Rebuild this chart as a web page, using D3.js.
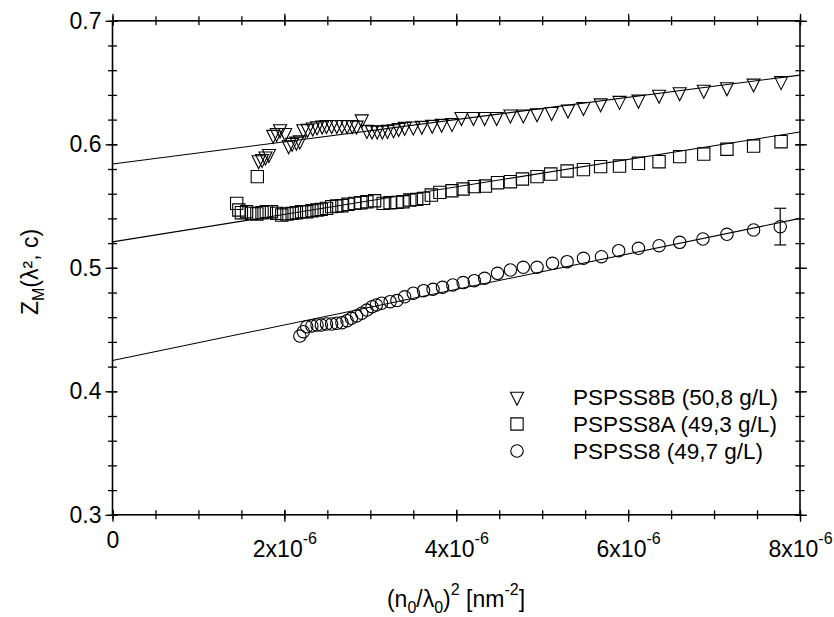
<!DOCTYPE html>
<html>
<head>
<meta charset="utf-8">
<script src="https://cdn.jsdelivr.net/npm/d3@7"></script>
<style>
  body { margin: 0; background: #fff; }
  text { font-family: "Liberation Sans", Arial, sans-serif; fill: #000; }
</style>
</head>
<body>
<svg id="chart" width="834" height="617"></svg>
<script>
// x in units of 10^-6 nm^-2, y = Z_M(lambda^2, c)
const seriesB = [ // PSPSS8B
  [1.70,0.587],[1.74,0.588],[1.78,0.590],[1.82,0.592],[1.87,0.6075],[1.91,0.609],[1.95,0.612],
  [2.01,0.609],[2.05,0.599],[2.09,0.601],[2.14,0.602],[2.18,0.603],[2.22,0.612],[2.27,0.6125],
  [2.33,0.6135],[2.38,0.6145],[2.44,0.615],[2.49,0.6155],[2.55,0.6155],[2.61,0.6155],[2.67,0.6155],
  [2.73,0.6155],[2.79,0.6155],[2.84,0.615],[2.90,0.620],[2.96,0.6115],[3.02,0.611],[3.08,0.611],
  [3.14,0.611],[3.20,0.6115],[3.27,0.612],[3.33,0.613],[3.40,0.614],[3.50,0.6143],[3.60,0.6148],
  [3.72,0.6156],[3.83,0.6164],[3.95,0.617],[4.06,0.622],[4.20,0.622],[4.33,0.622],[4.47,0.622],
  [4.63,0.624],[4.78,0.624],[4.94,0.625],[5.11,0.626],[5.30,0.628],[5.48,0.630],[5.68,0.633],
  [5.90,0.635],[6.12,0.636],[6.36,0.640],[6.60,0.642],[6.88,0.644],[7.15,0.646],[7.46,0.649],[7.78,0.651]
];
const seriesA = [ // PSPSS8A
  [1.445,0.5522],[1.47,0.5468],[1.685,0.5738],[1.50,0.5446],[1.56,0.5454],[1.62,0.5441],[1.68,0.5436],
  [1.74,0.5446],[1.79,0.5454],[1.85,0.5454],[1.91,0.5441],[1.97,0.5427],[2.03,0.5436],[2.09,0.5441],
  [2.14,0.5446],[2.20,0.5454],[2.26,0.5454],[2.32,0.5462],[2.38,0.5468],[2.43,0.5473],[2.49,0.5481],
  [2.55,0.5495],[2.61,0.5500],[2.67,0.5503],[2.74,0.5514],[2.82,0.5522],[2.89,0.5527],[2.96,0.5535],
  [3.05,0.5543],[3.15,0.5522],[3.23,0.5527],[3.31,0.553],[3.38,0.5535],[3.46,0.5549],[3.54,0.5554],
  [3.62,0.5562],[3.71,0.5589],[3.81,0.5611],[3.95,0.5624],[4.08,0.5638],[4.21,0.5657],[4.34,0.5662],
  [4.48,0.5689],[4.63,0.5697],[4.77,0.5719],[4.94,0.5738],[5.10,0.5759],[5.29,0.5784],[5.48,0.5795],
  [5.68,0.5819],[5.90,0.5824],[6.12,0.5846],[6.36,0.5859],[6.60,0.590],[6.88,0.5921],[7.15,0.596],
  [7.46,0.5986],[7.78,0.6021]
];
const series8 = [ // PSPSS8
  [2.18,0.4447],[2.22,0.4483],[2.26,0.4523],[2.32,0.4529],[2.38,0.4537],[2.43,0.4537],[2.49,0.4545],
  [2.55,0.4545],[2.61,0.4551],[2.67,0.4556],[2.73,0.4572],[2.78,0.4591],[2.84,0.461],[2.90,0.4632],
  [2.96,0.4658],[3.02,0.4685],[3.07,0.4699],[3.13,0.4713],[3.23,0.4726],[3.31,0.4735],[3.40,0.4765],
  [3.50,0.4794],[3.62,0.4815],[3.73,0.4826],[3.84,0.4842],[3.96,0.4861],[4.08,0.488],[4.21,0.4896],
  [4.33,0.4915],[4.48,0.4955],[4.63,0.4982],[4.78,0.5004],[4.94,0.5004],[5.12,0.5036],[5.29,0.505],
  [5.48,0.5077],[5.69,0.509],[5.89,0.5139],[6.12,0.5158],[6.36,0.5179],[6.60,0.5206],[6.87,0.5233],
  [7.15,0.5271],[7.46,0.5306],[7.77,0.5333]
];
// linear fits, end points at x = 0 and x = 8
const fitB = [[0,0.584],[8,0.656]];
const fitA = [[0,0.521],[8,0.610]];
const fit8 = [[0,0.425],[8,0.540]];
// error bar on the last PSPSS8 point
const errBar8 = { x: 7.77, lo: 0.5185, hi: 0.5482 };

const xTickMantissa = [0, 2, 4, 6, 8];
const xTickExponent = "-6";
const yTicks = [0.3, 0.4, 0.5, 0.6, 0.7];
const legendLabels = ["PSPSS8B (50,8 g/L)", "PSPSS8A (49,3 g/L)", "PSPSS8 (49,7 g/L)"];

(function draw() {
  const svg = d3.select("#chart");
  const pLeft = 112.5, pRight = 800, pTop = 20.8, pBottom = 514.8;
  const x = d3.scaleLinear().domain([0, 8]).range([pLeft, pRight]);
  const y = d3.scaleLinear().domain([0.3, 0.7]).range([pBottom, pTop]);

  // inverted triangle, size = width
  const triDown = {
    draw(ctx, size) {
      const w = size / 2, h = size;
      ctx.moveTo(-w, -h * 0.36);
      ctx.lineTo(w, -h * 0.36);
      ctx.lineTo(0, h * 0.64);
      ctx.closePath();
    }
  };
  const markers = [
    { data: seriesB, sym: d3.symbol().type(triDown).size(13) },
    { data: seriesA, sym: d3.symbol().type(d3.symbolSquare).size(12.3 * 12.3) },
    { data: series8, sym: d3.symbol().type(d3.symbolCircle).size(Math.PI * 6.2 * 6.2) }
  ];

  // frame
  svg.append("rect").attr("x", pLeft).attr("y", pTop)
    .attr("width", pRight - pLeft).attr("height", pBottom - pTop)
    .attr("fill", "none").attr("stroke", "#000").attr("stroke-width", 1.6);

  // crossing ticks on all four sides
  const axisFor = pos => pos === "left" ? d3.axisLeft(y) : pos === "right" ? d3.axisRight(y)
    : pos === "bottom" ? d3.axisBottom(x) : d3.axisTop(x);
  function ticks(pos, values, outLen, inLen, transform) {
    const g = svg.append("g").attr("transform", transform)
      .call(axisFor(pos).tickValues(values).tickSize(outLen).tickFormat(""));
    g.select(".domain").remove();
    const ln = g.selectAll(".tick line").attr("stroke", "#000").attr("stroke-width", 1.3);
    if (pos === "left") ln.attr("x1", inLen);
    if (pos === "right") ln.attr("x1", -inLen);
    if (pos === "bottom") ln.attr("y1", -inLen);
    if (pos === "top") ln.attr("y1", inLen);
  }
  const xMinor = x.ticks(16), yMinor = y.ticks(20);
  [["left", `translate(${pLeft},0)`, yMinor, yTicks],
   ["right", `translate(${pRight},0)`, yMinor, yTicks],
   ["bottom", `translate(0,${pBottom})`, xMinor, xTickMantissa],
   ["top", `translate(0,${pTop})`, xMinor, xTickMantissa]
  ].forEach(([pos, tr, minor, major]) => {
    ticks(pos, minor, 4.5, 4.5, tr);
    ticks(pos, major, 7, 5, tr);
  });

  // y tick labels
  const yLab = svg.append("g").attr("transform", `translate(${pLeft},0)`)
    .call(d3.axisLeft(y).tickValues(yTicks).tickFormat(d3.format(".1f")).tickSize(7).tickPadding(4));
  yLab.select(".domain").remove();
  yLab.selectAll(".tick line").remove();
  yLab.attr("font-family", null).attr("font-size", null);
  yLab.selectAll(".tick text").attr("font-size", 23);

  // x tick labels with superscript exponent
  const xLab = svg.append("g").attr("transform", `translate(0,${pBottom})`)
    .call(d3.axisBottom(x).tickValues(xTickMantissa).tickSize(0));
  xLab.select(".domain").remove();
  xLab.selectAll(".tick line").remove();
  xLab.attr("font-family", null).attr("font-size", null);
  xLab.selectAll(".tick text").each(function (d) {
    const t = d3.select(this).attr("dy", null).attr("font-size", 23)
      .attr("text-anchor", "middle").text(null);
    if (d === 0) {
      t.attr("y", 33).text("0");
    } else {
      t.attr("y", 42);
      t.append("tspan").text(d + "x10");
      t.append("tspan").attr("font-size", 16).attr("dy", -13).text(xTickExponent);
    }
  });

  // fit lines
  const line = d3.line().x(d => x(d[0])).y(d => y(d[1]));
  [fitB, fitA, fit8].forEach(f => {
    svg.append("path").attr("d", line(f)).attr("fill", "none")
      .attr("stroke", "#000").attr("stroke-width", 1.1);
  });

  // error bar
  const eg = svg.append("g").attr("stroke", "#000").attr("stroke-width", 1.2);
  eg.append("line").attr("x1", x(errBar8.x)).attr("x2", x(errBar8.x))
    .attr("y1", y(errBar8.lo)).attr("y2", y(errBar8.hi));
  [errBar8.lo, errBar8.hi].forEach(v => {
    eg.append("line").attr("x1", x(errBar8.x) - 6).attr("x2", x(errBar8.x) + 6)
      .attr("y1", y(v)).attr("y2", y(v));
  });

  // data markers
  markers.forEach(m => {
    svg.append("g").selectAll("path").data(m.data).join("path")
      .attr("transform", d => `translate(${x(d[0])},${y(d[1])})`)
      .attr("d", m.sym()).attr("fill", "none")
      .attr("stroke", "#000").attr("stroke-width", 1.1);
  });

  // legend
  const legY = [397, 424, 451];
  legendLabels.forEach((lab, i) => {
    svg.append("path").attr("transform", `translate(517,${legY[i]})`)
      .attr("d", markers[i].sym()).attr("fill", "none").attr("stroke", "#000").attr("stroke-width", 1.1);
    svg.append("text").attr("x", 573).attr("y", legY[i]).attr("dy", "0.36em")
      .attr("font-size", 22.5).text(lab);
  });

  // axis titles
  const xt = svg.append("text").attr("x", 456).attr("y", 607).attr("text-anchor", "middle").attr("font-size", 23);
  xt.append("tspan").text("(n");
  xt.append("tspan").attr("font-size", 16).attr("dy", 6).text("0");
  xt.append("tspan").attr("dy", -6).text("/λ");
  xt.append("tspan").attr("font-size", 16).attr("dy", 6).text("0");
  xt.append("tspan").attr("dy", -6).text(")");
  xt.append("tspan").attr("font-size", 16).attr("dy", -12).text("2");
  xt.append("tspan").attr("dy", 12).text(" [nm");
  xt.append("tspan").attr("font-size", 16).attr("dy", -12).text("-2");
  xt.append("tspan").attr("dy", 12).text("]");

  const yt = svg.append("text").attr("transform", "translate(38,272) rotate(-90)")
    .attr("text-anchor", "middle").attr("font-size", 23);
  yt.append("tspan").text("Z");
  yt.append("tspan").attr("font-size", 16).attr("dy", 6).text("M");
  yt.append("tspan").attr("dy", -6).text("(λ², c)");
})();
</script>
</body>
</html>
